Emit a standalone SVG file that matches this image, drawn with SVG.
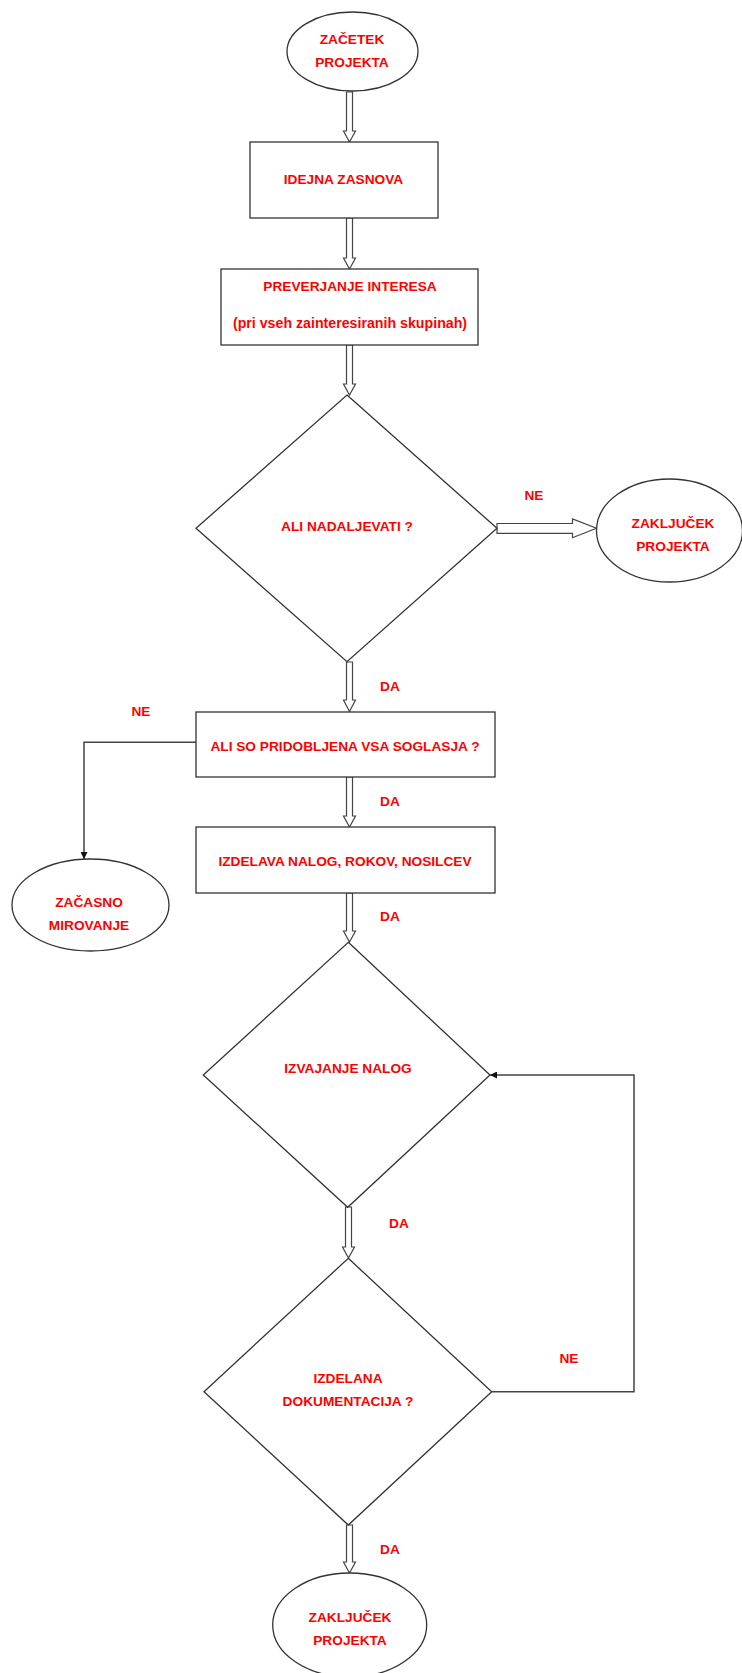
<svg xmlns="http://www.w3.org/2000/svg" width="742" height="1673" viewBox="0 0 742 1673">
<style>
.shape{fill:#fff;stroke:#333;stroke-width:1.3}
.hollow{fill:#fff;stroke:#444;stroke-width:1.2;stroke-linejoin:miter}
.line{fill:none;stroke:#444;stroke-width:1.5}
text{font-family:"Liberation Sans",Arial,sans-serif;font-weight:bold;font-size:13.7px;fill:#ff0000;text-anchor:middle}
</style>
<defs>
<marker id="blk" viewBox="0 0 10 10" refX="10" refY="5" markerWidth="7" markerHeight="7" orient="auto" markerUnits="userSpaceOnUse">
<path d="M0,0 L10,5 L0,10 Z" fill="#111"/>
</marker>
</defs>
<rect width="742" height="1673" fill="#fff"/>
<g id="connectors">
<path class="hollow" d="M346.5,92 L346.5,131 L343.5,131 L349.5,142 L355.5,131 L352.5,131 L352.5,92 Z"/>
<path class="hollow" d="M346.5,218 L346.5,258 L343.5,258 L349.5,269 L355.5,258 L352.5,258 L352.5,218 Z"/>
<path class="hollow" d="M346.5,345 L346.5,384 L343.5,384 L349.5,395 L355.5,384 L352.5,384 L352.5,345 Z"/>
<path class="hollow" d="M346.5,662 L346.5,700 L343.5,700 L349.5,711.5 L355.5,700 L352.5,700 L352.5,662 Z"/>
<path class="hollow" d="M346.5,777 L346.5,816 L343.5,816 L349.5,827 L355.5,816 L352.5,816 L352.5,777 Z"/>
<path class="hollow" d="M346.5,893 L346.5,931 L343.5,931 L349.5,942 L355.5,931 L352.5,931 L352.5,893 Z"/>
<path class="hollow" d="M345.5,1207 L345.5,1247 L342.5,1247 L348.5,1258 L354.5,1247 L351.5,1247 L351.5,1207 Z"/>
<path class="hollow" d="M346.5,1525 L346.5,1562 L343.5,1562 L349.5,1573 L355.5,1562 L352.5,1562 L352.5,1525 Z"/>
<path class="hollow" d="M497,523.5 L572.5,523.5 L572.5,519 L596.5,528.3 L572.5,537.7 L572.5,533.3 L497,533.3 Z"/>
<path class="line" d="M196,742.3 L84,742.3 L84,859" marker-end="url(#blk)"/>
<path class="line" d="M491.7,1391.7 L634,1391.7 L634,1075 L490,1075" marker-end="url(#blk)"/>
<text x="534" y="500">NE</text>
<text x="390" y="691">DA</text>
<text x="141" y="716">NE</text>
<text x="390" y="806">DA</text>
<text x="390" y="921">DA</text>
<text x="399" y="1228">DA</text>
<text x="569" y="1363">NE</text>
<text x="390" y="1554">DA</text>
</g>
<g id="start">
<ellipse class="shape" cx="352.5" cy="51.5" rx="65.5" ry="39.5"/>
<text x="352" y="44">ZAČETEK</text>
<text x="352" y="67">PROJEKTA</text>
</g>
<g id="idejna">
<rect class="shape" x="250" y="142" width="188" height="76"/>
<text x="343.5" y="184">IDEJNA ZASNOVA</text>
</g>
<g id="preverjanje">
<rect class="shape" x="221" y="269" width="257" height="76"/>
<text x="350" y="291">PREVERJANJE INTERESA</text>
<text x="350" y="328" style="font-size:14.2px">(pri vseh zainteresiranih skupinah)</text>
</g>
<g id="nadaljevati">
<polygon class="shape" points="347,395 497,528.3 347,661.7 196,528.3"/>
<text x="347" y="531">ALI NADALJEVATI ?</text>
</g>
<g id="zakljucek1">
<ellipse class="shape" cx="669.5" cy="530.5" rx="73" ry="51.5"/>
<text x="673" y="528">ZAKLJUČEK</text>
<text x="673" y="551">PROJEKTA</text>
</g>
<g id="soglasja">
<rect class="shape" x="196" y="712" width="299" height="65"/>
<text x="345" y="751">ALI SO PRIDOBLJENA VSA SOGLASJA ?</text>
</g>
<g id="mirovanje">
<ellipse class="shape" cx="90.5" cy="905" rx="78.5" ry="46"/>
<text x="89" y="907">ZAČASNO</text>
<text x="89" y="930">MIROVANJE</text>
</g>
<g id="izdelava">
<rect class="shape" x="196" y="827" width="299" height="66"/>
<text x="345" y="866">IZDELAVA NALOG, ROKOV, NOSILCEV</text>
</g>
<g id="izvajanje">
<polygon class="shape" points="348.3,942.3 490,1075 347.7,1207.3 203.3,1075"/>
<text x="348" y="1073">IZVAJANJE NALOG</text>
</g>
<g id="dokumentacija">
<polygon class="shape" points="348.3,1258.3 491.7,1391.7 348.3,1525 204,1391.7"/>
<text x="348" y="1383">IZDELANA</text>
<text x="348" y="1406">DOKUMENTACIJA ?</text>
</g>
<g id="zakljucek2">
<ellipse class="shape" cx="349.7" cy="1625" rx="77" ry="52"/>
<text x="350" y="1622">ZAKLJUČEK</text>
<text x="350" y="1645">PROJEKTA</text>
</g>
</svg>
